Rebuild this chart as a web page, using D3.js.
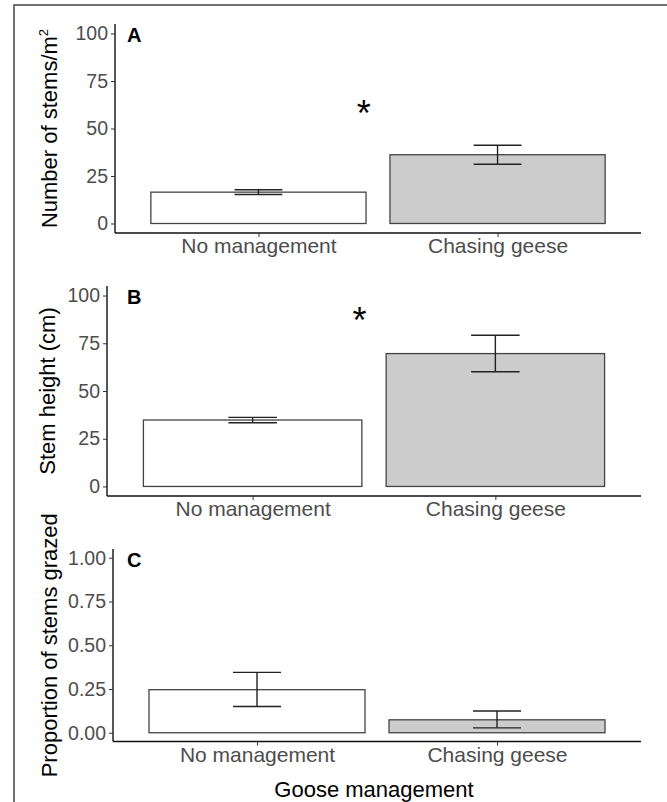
<!DOCTYPE html>
<html>
<head>
<meta charset="utf-8">
<script src="https://cdn.jsdelivr.net/npm/d3@7"></script>
<style>
  body { margin: 0; background: #fff; }
  text { font-family: "Liberation Sans", Arial, sans-serif; }
</style>
</head>
<body>
<svg id="vis" width="667" height="802"></svg>
<script>
// data
const categories = ['No management', 'Chasing geese']
const fills = ['#ffffff', '#cccccc']

const stemMeans = [16.5, 36.2]
const stemLower = [15.3, 31.2]
const stemUpper = [17.8, 41.2]

const heightMeans = [34.8, 69.6]
const heightLower = [33.4, 60.1]
const heightUpper = [36.2, 79.2]

const grazedMeans = [0.246, 0.074]
const grazedLower = [0.150, 0.028]
const grazedUpper = [0.345, 0.124]

const countTicks = [0, 25, 50, 75, 100]
const propTicks = [0, 0.25, 0.5, 0.75, 1]

// significance stars: position on category axis (1 = first bar) and y value
const starA = [1.44, 62]
const starB = [1.44, 91]

const svg = d3.select('#vis')

// outer frame of the figure
svg.append('rect')
    .attr('x', 14).attr('y', 5)
    .attr('width', 700).attr('height', 900)
    .attr('fill', 'none')
    .attr('stroke', '#444')
    .attr('stroke-width', 1.5)

const panels = [
    {tag: 'A', means: stemMeans, lower: stemLower, upper: stemUpper, ticks: countTicks, fmt: d3.format('d'),
     domain: [-5, 105], left: 115, right: 641, top: 24, bottom: 233, titleX: 57, star: starA},
    {tag: 'B', means: heightMeans, lower: heightLower, upper: heightUpper, ticks: countTicks, fmt: d3.format('d'),
     domain: [-5, 105], left: 107, right: 641, top: 286, bottom: 496, titleX: 55, star: starB},
    {tag: 'C', means: grazedMeans, lower: grazedLower, upper: grazedUpper, ticks: propTicks, fmt: d3.format('.2f'),
     domain: [-0.05, 1.05], left: 113, right: 641, top: 549, bottom: 741.5, titleX: 57, star: null}
]

panels.forEach(function(p){
    let g = svg.append('g').attr('class', 'panel panel-' + p.tag)

    let x = d3.scalePoint()
        .domain(categories)
        .range([p.left, p.right])
        .padding(0.6)
    let step = x.step()

    let y = d3.scaleLinear()
        .domain(p.domain)
        .range([p.bottom, p.top])

    let rows = categories.map(function(c, i){
        return {cat: c, mean: p.means[i], lo: p.lower[i], hi: p.upper[i], fill: fills[i]}
    })

    //bars
    g.selectAll('.bar')
        .data(rows)
        .enter()
        .append('rect')
        .attr('class', 'bar')
        .attr('x', d => x(d.cat) - step * 0.45)
        .attr('width', step * 0.9)
        .attr('y', d => y(d.mean))
        .attr('height', d => y(0) - y(d.mean))
        .attr('fill', d => d.fill)
        .attr('stroke', '#444')
        .attr('stroke-width', 1.3)

    //error bars
    let eb = g.selectAll('.err')
        .data(rows)
        .enter()
        .append('g')
        .attr('class', 'err')
        .attr('stroke', '#222')
        .attr('stroke-width', 1.4)
    eb.append('line')
        .attr('x1', d => x(d.cat)).attr('x2', d => x(d.cat))
        .attr('y1', d => y(d.lo)).attr('y2', d => y(d.hi))
    eb.append('line')
        .attr('x1', d => x(d.cat) - step * 0.1).attr('x2', d => x(d.cat) + step * 0.1)
        .attr('y1', d => y(d.lo)).attr('y2', d => y(d.lo))
    eb.append('line')
        .attr('x1', d => x(d.cat) - step * 0.1).attr('x2', d => x(d.cat) + step * 0.1)
        .attr('y1', d => y(d.hi)).attr('y2', d => y(d.hi))

    //left axis
    let yAxis = d3.axisLeft(y)
        .tickValues(p.ticks)
        .tickFormat(p.fmt)
        .tickSize(4)
        .tickPadding(3)
    let ya = g.append('g')
        .attr('class', 'y axis')
        .attr('transform', 'translate(' + p.left + ',0)')
        .call(yAxis)
    ya.select('.domain').attr('stroke', '#111').attr('stroke-width', 1.4)
        .attr('d', 'M0,' + p.top + 'V' + p.bottom)
    ya.selectAll('.tick line').attr('stroke', '#333')
    ya.selectAll('.tick text')
        .attr('fill', '#4d4d4d')
        .style('font-size', '19.5px')
        .style('font-family', '"Liberation Sans", Arial, sans-serif')

    //bottom axis
    let xAxis = d3.axisBottom(x)
        .tickSize(4)
        .tickPadding(3)
    let xa = g.append('g')
        .attr('class', 'x axis')
        .attr('transform', 'translate(0,' + p.bottom + ')')
        .call(xAxis)
    xa.select('.domain').attr('stroke', '#111').attr('stroke-width', 1.4)
        .attr('d', 'M' + p.left + ',0H' + p.right)
    xa.selectAll('.tick line').attr('stroke', '#333')
    xa.selectAll('.tick text')
        .attr('fill', '#4d4d4d')
        .attr('dy', null)
        .attr('y', 20)
        .style('font-size', '21px')
        .style('font-family', '"Liberation Sans", Arial, sans-serif')

    //panel tag
    g.append('text')
        .attr('x', 127)
        .attr('y', p.top + 18)
        .attr('font-weight', 'bold')
        .attr('font-size', 20)
        .text(p.tag)

    //star
    if(p.star){
        let sx = x(categories[0]) + (p.star[0] - 1) * step
        g.append('text')
            .attr('x', sx)
            .attr('y', y(p.star[1]) + 20)
            .attr('text-anchor', 'middle')
            .attr('font-size', 36)
            .text('*')
    }

    p.midY = (p.top + p.bottom) / 2
})

//y axis titles
let tA = svg.append('text')
    .attr('transform', 'translate(' + panels[0].titleX + ',' + panels[0].midY + ') rotate(-90)')
    .attr('text-anchor', 'middle')
    .attr('font-size', 22)
tA.append('tspan').text('Number of stems/m')
tA.append('tspan').attr('font-size', 13).attr('dy', -9).text('2')

svg.append('text')
    .attr('transform', 'translate(' + panels[1].titleX + ',' + panels[1].midY + ') rotate(-90)')
    .attr('text-anchor', 'middle')
    .attr('font-size', 22)
    .text('Stem height (cm)')

svg.append('text')
    .attr('transform', 'translate(' + panels[2].titleX + ',' + panels[2].midY + ') rotate(-90)')
    .attr('text-anchor', 'middle')
    .attr('font-size', 22)
    .text('Proportion of stems grazed')

//x axis title
svg.append('text')
    .attr('x', (panels[2].left + panels[2].right) / 2 - 3)
    .attr('y', 797)
    .attr('text-anchor', 'middle')
    .attr('font-size', 22)
    .text('Goose management')
</script>
</body>
</html>
